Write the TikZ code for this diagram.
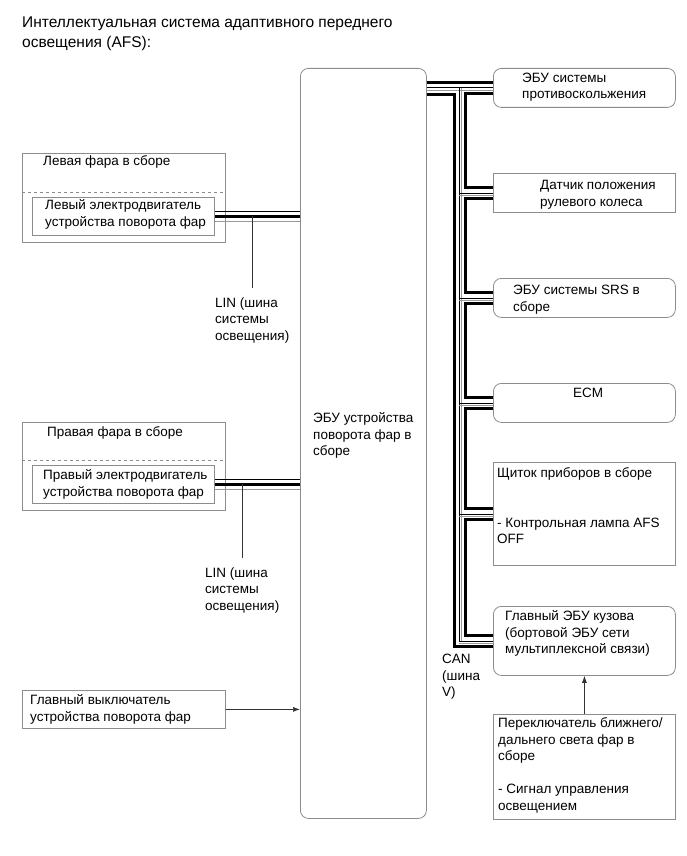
\documentclass[tikz,border=0pt]{standalone}
\usepackage{fontspec}
\setmainfont{Liberation Sans}
\usetikzlibrary{arrows.meta}

% anchor=base west of a text node sits on its last line
\tikzset{
  unit/.style={draw=black!45, line width=0.8pt, inner sep=0pt, anchor=north west,
    minimum width=182pt, minimum height=39pt},
  rnd/.style={unit, rounded corners=8pt},
  txt/.style={anchor=base west, align=left, inner sep=0pt,
    font=\fontsize{13.5}{16.5}\selectfont},
  busthick/.style={line width=3pt},
  busthin/.style={line width=0.8pt},
  busgray/.style={line width=0.8pt, draw=black!40},
  lead/.style={line width=0.7pt, draw=black!80},
  sig/.style={line width=0.7pt, draw=black!80, -{Latex[length=7pt,width=5pt]}},
}

\begin{document}
\begin{tikzpicture}[x=1pt,y=-1pt]
  \useasboundingbox (0,0) rectangle (687,856);

  % Title
  \node[txt, font=\fontsize{15.5}{19.5}\selectfont] (title) at (22,47.5) {Интеллектуальная система адаптивного переднего\\освещения (AFS):};

  % Headlamp assemblies (left side)
  \node[unit, minimum width=203pt, minimum height=89pt] (hlL) at (22,153) {};
  \draw[draw=black!45, dashed] (22,192) -- (225,192);
  \node[txt] (hlLt) at (43,165.5) {Левая фара в сборе};
  \node[unit, minimum height=38pt] (motL) at (32,197) {};
  \node[txt] (motLt) at (45,226) {Левый электродвигатель\\устройства поворота фар};

  \node[unit, minimum width=203pt, minimum height=88pt] (hlR) at (22,422) {};
  \draw[draw=black!45, dashed] (22,460) -- (225,460);
  \node[txt] (hlRt) at (47,436.5) {Правая фара в сборе};
  \node[unit, minimum height=38pt] (motR) at (32,465) {};
  \node[txt] (motRt) at (43,496) {Правый электродвигатель\\устройства поворота фар};

  \node[unit, minimum width=203pt, minimum height=38pt] (sw) at (22,690) {};
  \node[txt] (swt) at (30,721) {Главный выключатель\\устройства поворота фар};

  % Main ECU
  \node[rnd, minimum width=126pt, minimum height=750pt] (ecu) at (300,68) {};
  \node[txt] (ecut) at (313,455.5) {ЭБУ устройства\\поворота фар в\\сборе};

  % CAN units (right side)
  \node[rnd] (abs) at (493,68) {};
  \node[txt] (abst) at (522,99) {ЭБУ системы\\противоскольжения};
  \node[unit] (steer) at (493,173) {};
  \node[txt] (steert) at (540,206) {Датчик положения\\рулевого колеса};
  \node[rnd] (srs) at (493,278) {};
  \node[txt] (srst) at (513,311) {ЭБУ системы SRS в\\сборе};
  \node[rnd] (ecm) at (493,383) {};
  \node[txt, anchor=base] (ecmt) at (588,397.5) {ECM};
  \node[unit, minimum height=103pt] (cluster) at (493,462) {};
  \node[txt] (clustert) at (497,543.5) {Щиток приборов в сборе\\[33pt]- Контрольная лампа AFS\\OFF};
  \node[rnd, minimum height=69pt] (body) at (493,606) {};
  \node[txt] (bodyt) at (505,653.5) {Главный ЭБУ кузова\\(бортовой ЭБУ сети\\мультиплексной связи)};
  \node[unit, minimum height=105pt] (hbsw) at (493,714) {};
  \node[txt] (hbswt) at (498,810) {Переключатель ближнего/\\дальнего света фар в\\сборе\\[16.5pt]- Сигнал управления\\освещением};

  % LIN buses
  \foreach \m in {motL,motR}
    {
      \draw[busthin] ([yshift=5pt]\m.east) -- ([yshift=5pt]\m.east -| ecu.west);
      \draw[busthick] (\m.east) -- (\m.east -| ecu.west);
      \draw[busgray] ([yshift=-5pt]\m.east) -- ([yshift=-5pt]\m.east -| ecu.west);
    }
  \node[txt] (linL) at (215,340) {LIN (шина\\системы\\освещения)};
  \node[txt] (linR) at (205,610) {LIN (шина\\системы\\освещения)};
  \draw[lead] (motL.east -| linL.north) -- ([yshift=9pt]linL.north);
  \draw[lead] (motR.east -| linR.north) -- ([yshift=9pt]linR.north);

  % CAN bus
  \coordinate (trunk) at (459,0);
  \draw[busthick] ([yshift=5.5pt]abs.west -| ecu.east) -- ([yshift=5.5pt]abs.west);
  \draw[busthick] ([yshift=-6.5pt]abs.west -| ecu.east) -- ++(28,0) |- ([yshift=-5.5pt]body.west);
  \foreach \a/\b in {abs/steer, steer/srs, srs/ecm, ecm/cluster, cluster/body}
    {
      \draw[busthick] ([yshift=-5.5pt]\a.west) -- ++(-28,0) |- ([yshift=5.5pt]\b.west);
    }
  \draw[busthin] (abs.west -| ecu.east) -- (abs.west);
  \draw[busgray] ([yshift=-3pt]abs.west -| ecu.east) -- ([yshift=-3pt]abs.west);
  \draw[busthin] (abs.west -| trunk) -- (body.west -| trunk);
  \draw[busgray] ([xshift=2.5pt]abs.west -| trunk) -- ([xshift=2.5pt]body.west -| trunk);
  \foreach \b in {steer,srs,ecm,cluster,body}
    {
      \draw[busthin] (\b.west -| trunk) -- (\b.west);
      \draw[busgray] ([yshift=-2.5pt]\b.west -| trunk) -- ([yshift=-2.5pt]\b.west);
    }
  \node[txt] (can) at (442,696.5) {CAN\\(шина\\V)};

  % Signal inputs
  \draw[sig] (sw.east) -- (sw.east -| ecu.west);
  \draw[sig] (hbsw.north) -- (body.south);
\end{tikzpicture}
\end{document}
